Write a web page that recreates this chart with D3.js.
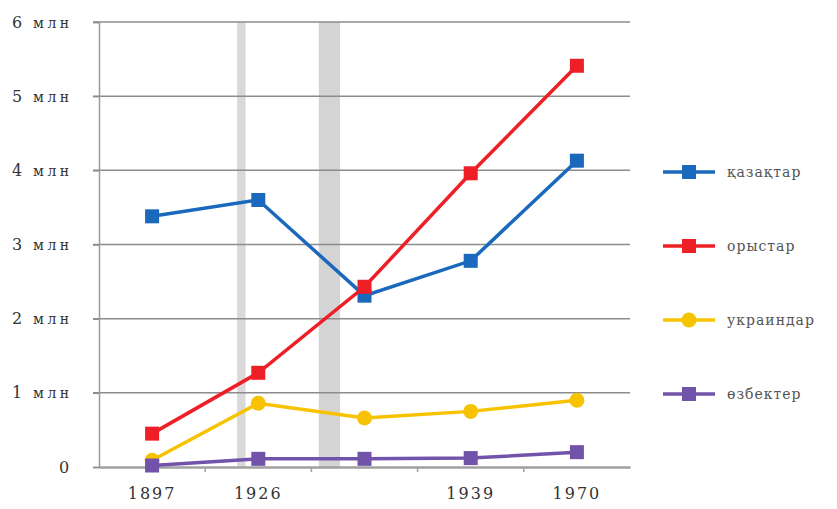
<!DOCTYPE html>
<html>
<head>
<meta charset="utf-8">
<script src="https://cdn.jsdelivr.net/npm/d3@7"></script>
<style>
  body { margin: 0; background: #fff; }
  text { font-family: "DejaVu Serif", "Liberation Serif", serif; }
</style>
</head>
<body>
<svg width="837" height="509"></svg>
<script>
// categories (third census has no label on the axis)
const years = ['1897', '1926', '', '1939', '1970'];
const yTicks = [0, 1, 2, 3, 4, 5, 6];

// population, millions
const kazakhs    = [3.38, 3.60, 2.31, 2.78, 4.13];
const russians   = [0.45, 1.27, 2.43, 3.96, 5.41];
const ukrainians = [0.09, 0.86, 0.66, 0.75, 0.90];
const uzbeks     = [0.02, 0.11, 0.11, 0.12, 0.20];

const names = ['қазақтар', 'орыстар', 'украиндар', 'өзбектер'];
const colors = ['#1a69bd', '#ee1f26', '#f7c300', '#7153a9'];
const markers = ['square', 'square', 'circle', 'square'];

// shaded periods, in category-index units
const shades = [
  {from: 0.80, to: 0.88, fill: '#d9d9d9'},
  {from: 1.57, to: 1.77, fill: '#d4d4d4'}
];

const series = [kazakhs, russians, ukrainians, uzbeks].map((v, i) => ({
  name: names[i], color: colors[i], marker: markers[i], values: v
}));

const margin = {left: 99, right: 207, top: 22, bottom: 42};
const width = 837, height = 509;
const svg = d3.select('svg');

const x = d3.scaleBand()
  .domain(d3.range(years.length))
  .range([margin.left, width - margin.right]);
const xi = d3.scaleLinear()
  .domain([0, years.length - 1])
  .range([x(0) + x.bandwidth() / 2, x(years.length - 1) + x.bandwidth() / 2]);
const y = d3.scaleLinear()
  .domain([0, 6])
  .range([height - margin.bottom, margin.top]);

// shaded periods
svg.append('g')
  .selectAll('rect')
  .data(shades)
  .enter()
  .append('rect')
  .attr('x', d => xi(d.from))
  .attr('width', d => xi(d.to) - xi(d.from))
  .attr('y', y(6))
  .attr('height', y(0) - y(6))
  .attr('fill', d => d.fill);

// gridlines
svg.append('g')
  .selectAll('line')
  .data(yTicks.filter(d => d > 0))
  .enter()
  .append('line')
  .attr('x1', margin.left - 6)
  .attr('x2', width - margin.right)
  .attr('y1', d => y(d))
  .attr('y2', d => y(d))
  .attr('stroke', '#8c8c8c')
  .attr('stroke-width', 1.5);

// y axis
const yAxis = svg.append('g')
  .attr('transform', `translate(${margin.left},0)`)
  .call(d3.axisLeft(y).tickValues(yTicks).tickSize(6).tickFormat(''));
yAxis.select('.domain').attr('stroke', '#9a9a9a').attr('stroke-width', 1.5);
yAxis.selectAll('.tick line').attr('stroke', '#8c8c8c').attr('stroke-width', 1.5);
// label: digit at the left, "млн" set apart like the scan
yAxis.selectAll('.tick text').each(function(d) {
  const t = d3.select(this)
    .text(null)
    .attr('text-anchor', 'start')
    .attr('x', d === 0 ? -40 : -87)
    .attr('font-size', 16)
    .attr('fill', '#333');
  t.append('tspan').text(d);
  if (d > 0) {
    t.append('tspan')
      .attr('x', -66)
      .attr('font-size', 14)
      .attr('letter-spacing', 3.5)
      .text('млн');
  }
});

// x axis
const xAxis = svg.append('g')
  .attr('transform', `translate(0,${y(0)})`)
  .call(d3.axisBottom(x).tickSize(0).tickFormat(i => years[i]));
xAxis.select('.domain').attr('stroke', '#a0a0a0').attr('stroke-width', 2.5);
xAxis.selectAll('.tick text')
  .attr('dy', 29)
  .attr('font-size', 16)
  .attr('letter-spacing', 2)
  .attr('fill', '#333')
  .attr('font-family', '"DejaVu Serif", serif');
svg.append('g')
  .selectAll('line')
  .data(d3.range(1, years.length))
  .enter()
  .append('line')
  .attr('x1', i => x(i))
  .attr('x2', i => x(i))
  .attr('y1', y(0))
  .attr('y2', y(0) + 5)
  .attr('stroke', '#a0a0a0')
  .attr('stroke-width', 1.5);

// lines
const line = d3.line()
  .x((d, i) => xi(i))
  .y(d => y(d));

function drawMarker(sel, kind, color) {
  if (kind === 'circle') {
    sel.append('circle').attr('r', 7.5).attr('fill', color);
  } else {
    sel.append('rect')
      .attr('x', -7).attr('y', -7)
      .attr('width', 14).attr('height', 14)
      .attr('fill', color);
  }
}

series.forEach(s => {
  const g = svg.append('g');
  g.append('path')
    .attr('d', line(s.values))
    .attr('fill', 'none')
    .attr('stroke', s.color)
    .attr('stroke-width', 3.5);
  g.selectAll('g')
    .data(s.values)
    .enter()
    .append('g')
    .attr('transform', (d, i) => `translate(${xi(i)},${y(d)})`)
    .each(function() { drawMarker(d3.select(this), s.marker, s.color); });
});

// legend
const legendY = d3.scalePoint()
  .domain(names)
  .range([172, 394]);
const legend = svg.append('g')
  .selectAll('g')
  .data(series)
  .enter()
  .append('g')
  .attr('transform', d => `translate(689,${legendY(d.name)})`);
legend.append('line')
  .attr('x1', -26).attr('x2', 26)
  .attr('stroke', d => d.color)
  .attr('stroke-width', 3.5);
legend.each(function(d) { drawMarker(d3.select(this), d.marker, d.color); });
legend.append('text')
  .attr('x', 38)
  .attr('dy', '0.35em')
  .attr('font-size', 14)
  .attr('letter-spacing', 1)
  .attr('fill', '#555')
  .text(d => d.name);
</script>
</body>
</html>
